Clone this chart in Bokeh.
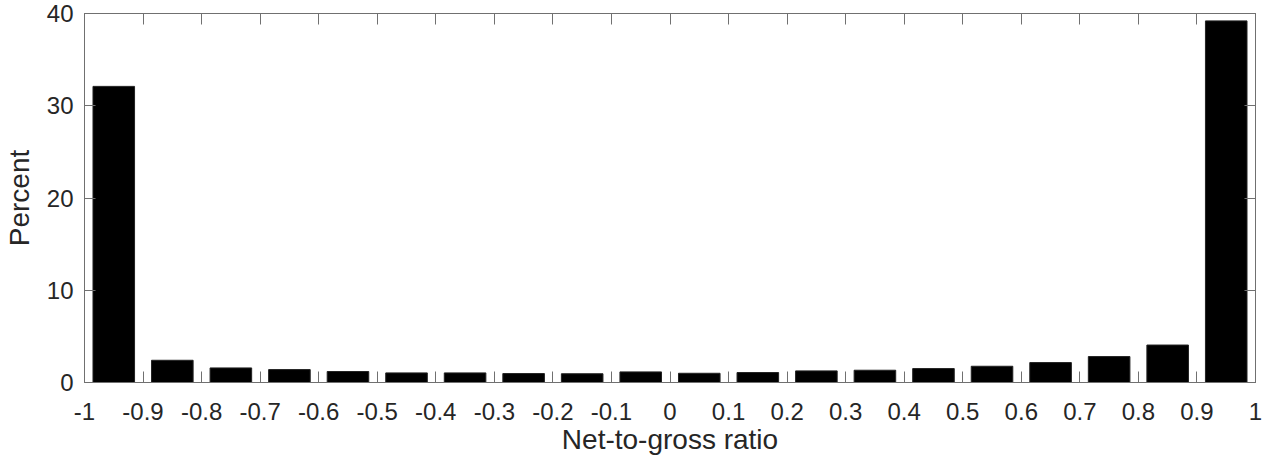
from bokeh.plotting import figure
from bokeh.models import FixedTicker, LinearAxis, Range1d, CustomJSTickFormatter
from bokeh.embed import file_html
from bokeh.resources import INLINE

# Histogram data: bin centres (net-to-gross ratio) and percent per bin
bin_centers = [-0.95, -0.85, -0.75, -0.65, -0.55, -0.45, -0.35, -0.25, -0.15, -0.05,
               0.05, 0.15, 0.25, 0.35, 0.45, 0.55, 0.65, 0.75, 0.85, 0.95]
percent = [32.1, 2.41, 1.58, 1.40, 1.19, 1.04, 1.04, 0.97, 0.95, 1.15,
           1.00, 1.08, 1.26, 1.33, 1.51, 1.76, 2.16, 2.81, 4.06, 39.2]

x_ticks = [-1.0, -0.9, -0.8, -0.7, -0.6, -0.5, -0.4, -0.3, -0.2, -0.1, 0.0,
           0.1, 0.2, 0.3, 0.4, 0.5, 0.6, 0.7, 0.8, 0.9, 1.0]
x_tick_labels = ["-1", "-0.9", "-0.8", "-0.7", "-0.6", "-0.5", "-0.4", "-0.3", "-0.2", "-0.1", "0",
                 "0.1", "0.2", "0.3", "0.4", "0.5", "0.6", "0.7", "0.8", "0.9", "1"]
y_ticks = [0, 10, 20, 30, 40]

FONT = "Liberation Sans"
TXT = "#262626"
AX = "#707070"

p = figure(width=1262, height=457, output_backend="svg", toolbar_location=None,
           x_range=Range1d(-1, 1), y_range=Range1d(0, 40),
           min_border_left=83, min_border_right=7, min_border_top=13, min_border_bottom=74)

p.vbar(x=bin_centers, top=percent, width=0.071, bottom=0,
       fill_color="black", line_color="#222222", line_width=1)

p.grid.visible = False
p.background_fill_color = "white"
p.border_fill_color = "white"
p.outline_line_color = AX
p.outline_line_width = 1

xa = p.xaxis[0]
xa.ticker = FixedTicker(ticks=x_ticks)
xa.major_label_overrides = {t: l for t, l in zip(x_ticks, x_tick_labels)}
ya = p.yaxis[0]
ya.ticker = FixedTicker(ticks=y_ticks)

for ax in (xa, ya):
    ax.major_tick_in = 11
    ax.major_tick_out = 0
    ax.minor_tick_in = 0
    ax.minor_tick_out = 0
    ax.axis_line_color = AX
    ax.major_tick_line_color = AX
    ax.major_label_text_font = FONT
    ax.major_label_text_font_size = "24px"
    ax.major_label_text_color = TXT
    ax.axis_label_text_font = FONT
    ax.axis_label_text_font_size = "28px"
    ax.axis_label_text_font_style = "normal"
    ax.axis_label_text_color = TXT

xa.axis_label = "Net-to-gross ratio"
xa.major_label_standoff = 20
xa.axis_label_standoff = 1
ya.axis_label = "Percent"
ya.major_label_standoff = 11
ya.axis_label_standoff = 9

blank = CustomJSTickFormatter(code="return ''")
top_ax = LinearAxis(ticker=FixedTicker(ticks=x_ticks), formatter=blank)
right_ax = LinearAxis(ticker=FixedTicker(ticks=y_ticks), formatter=blank)
for ax in (top_ax, right_ax):
    ax.major_tick_in = 11
    ax.major_tick_out = 0
    ax.minor_tick_in = 0
    ax.minor_tick_out = 0
    ax.axis_line_color = AX
    ax.major_tick_line_color = AX
    ax.major_label_standoff = 0
p.add_layout(top_ax, "above")
p.add_layout(right_ax, "right")

open("out.html", "w").write(file_html(p, INLINE))
